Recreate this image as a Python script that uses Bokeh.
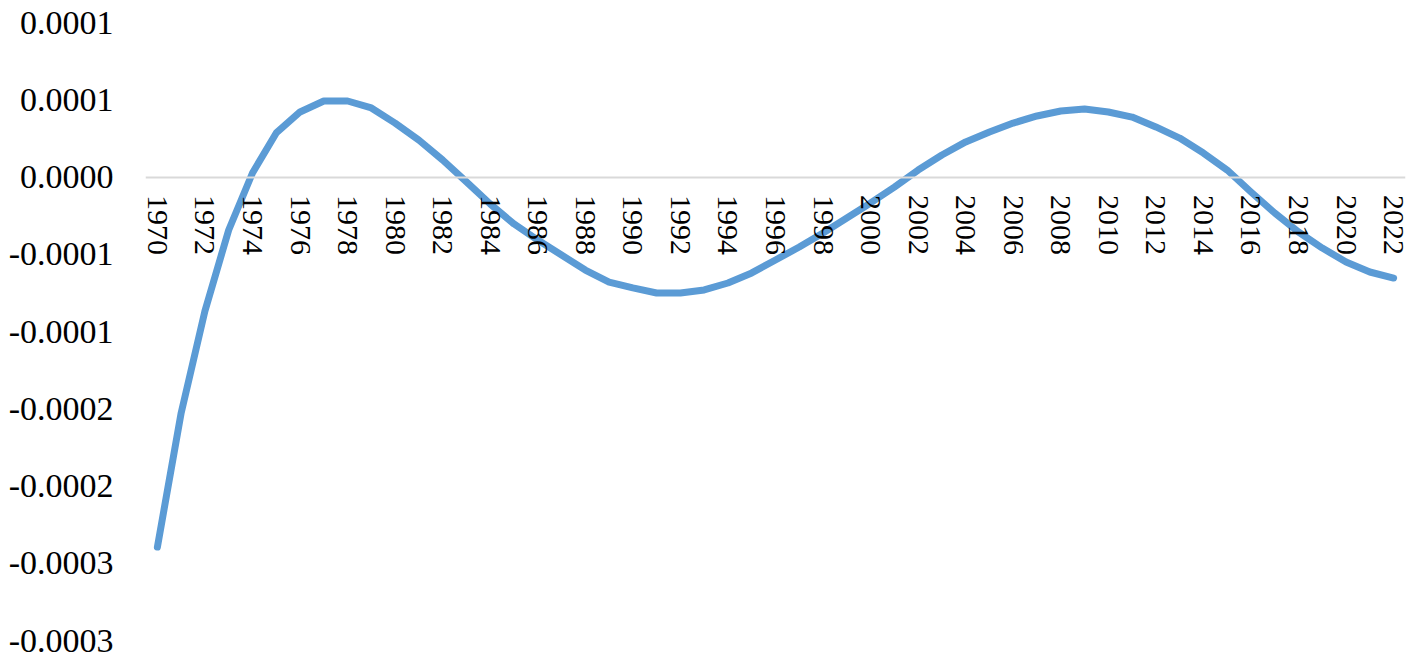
from bokeh.plotting import figure
from bokeh.models import Range1d, FixedTicker, ColumnDataSource
from bokeh.embed import file_html
from bokeh.resources import INLINE

years = list(range(1970, 2023))
values = [
    -2.395e-4, -1.527e-4, -8.67e-5, -3.43e-5, 2.6e-6, 2.85e-5, 4.21e-5, 4.92e-5,
    4.92e-5, 4.47e-5, 3.49e-5, 2.39e-5, 1.10e-5, -3.2e-6, -1.75e-5, -3.04e-5,
    -4.08e-5, -5.05e-5, -6.02e-5, -6.80e-5, -7.18e-5, -7.51e-5, -7.51e-5, -7.31e-5,
    -6.86e-5, -6.21e-5, -5.37e-5, -4.53e-5, -3.62e-5, -2.65e-5, -1.68e-5, -6.5e-6,
    4.5e-6, 1.42e-5, 2.27e-5, 2.91e-5, 3.49e-5, 3.95e-5, 4.27e-5, 4.40e-5,
    4.21e-5, 3.88e-5, 3.24e-5, 2.52e-5, 1.55e-5, 4.5e-6, -9.7e-6, -2.33e-5,
    -3.56e-5, -4.60e-5, -5.50e-5, -6.15e-5, -6.54e-5,
]
x_ticks = list(range(1970, 2023, 2))
y_ticks = [0.0001, 0.00005, 0.0, -0.00005, -0.0001, -0.00015, -0.0002, -0.00025, -0.0003]
y_labels = ["0.0001", "0.0001", "0.0000", "-0.0001", "-0.0001", "-0.0002", "-0.0002", "-0.0003", "-0.0003"]

FONT = "Liberation Serif"

p = figure(
    frame_width=1260, frame_height=618,
    min_border_left=145, min_border_right=11, min_border_top=22, min_border_bottom=26,
    x_range=Range1d(1969.5, 2022.5), y_range=Range1d(-0.0003, 0.0001),
    output_backend="svg", toolbar_location=None,
)
p.outline_line_color = None
p.xgrid.visible = False
p.ygrid.visible = False
p.background_fill_color = "white"
p.border_fill_color = "white"

src = ColumnDataSource(dict(x=years, y=values))
p.line("x", "y", source=src, line_color="#5B9BD5", line_width=7,
       line_cap="round", line_join="round")

xa = p.xaxis[0]
xa.fixed_location = 0
xa.ticker = FixedTicker(ticks=x_ticks)
xa.axis_line_color = "#D9D9D9"
xa.axis_line_width = 2
xa.major_tick_line_color = None
xa.minor_tick_line_color = None
xa.major_tick_out = 0
xa.major_tick_in = 0
xa.major_label_orientation = "vertical"
xa.major_label_standoff = 18
xa.major_label_text_font = FONT
xa.major_label_text_font_size = "30px"
xa.major_label_text_color = "#000000"

ya = p.yaxis[0]
ya.ticker = FixedTicker(ticks=y_ticks)
ya.major_label_overrides = dict(zip(y_ticks, y_labels))
ya.axis_line_color = None
ya.major_tick_line_color = None
ya.minor_tick_line_color = None
ya.major_tick_out = 0
ya.major_tick_in = 0
ya.major_label_standoff = 32
ya.major_label_text_font = FONT
ya.major_label_text_font_size = "34px"
ya.major_label_text_color = "#000000"

open("out.html", "w").write(file_html(p, INLINE))
